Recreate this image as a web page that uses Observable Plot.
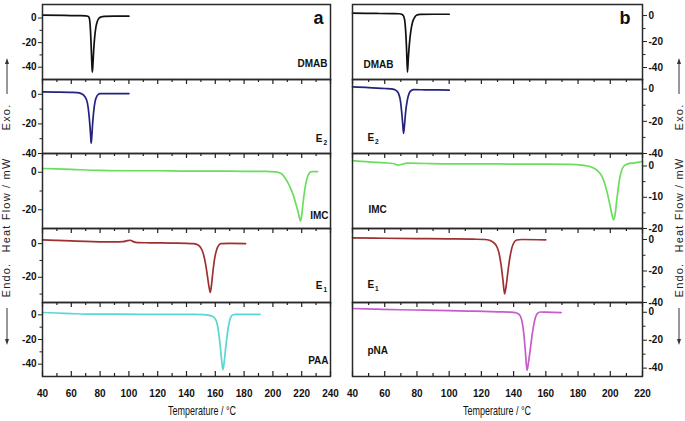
<!DOCTYPE html>
<html><head><meta charset="utf-8">
<script src="https://cdn.jsdelivr.net/npm/d3@7"></script>
<script src="https://cdn.jsdelivr.net/npm/@observablehq/plot@0.6"></script>
<style>
html,body{margin:0;padding:0;background:#fff;}
#chart{position:relative;width:685px;height:421px;overflow:hidden;background:#fff;font-family:"Liberation Sans",Arial,sans-serif;}
#chart svg{position:absolute;}
</style></head><body><div id="chart"></div>
<script>
// ---------- DATA ----------
// Panel a
const aDMAB_T  = [40,55,65,70,71.5,72.3,72.9,73.4,73.9,74.3,74.6,75.0,75.5,76.2,77,78,79,80.5,83,90,100];
const aDMAB_HF = [2.4,2.1,1.9,1.8,1.5,0.5,-3,-12,-26,-38,-44,-38,-27,-16,-8,-3,-0.5,0.8,1.4,1.5,1.5];
const aE2_T  = [40,50,60,64,66.5,68.5,70,71.2,72.2,73,73.5,73.8,74.2,74.8,75.5,76.5,77.5,78.5,80,85,100];
const aE2_HF = [1.6,1.5,1.3,1.1,0.6,-0.5,-2.5,-6,-13,-22,-29,-33,-29,-20,-12,-5,-1.8,-0.3,0.4,0.5,0.5];
const aIMC_T  = [40,60,80,100,120,140,160,180,195,202,206,208,210,212.5,214.5,216,217.3,218.5,219.2,220,221,222,223,224,225.5,227,231];
const aIMC_HF = [2.0,1.5,1.0,0.8,0.8,0.6,0.6,0.5,0.5,0.2,-0.8,-2.5,-5,-9,-13,-17,-20.5,-24.5,-26,-23,-16,-10,-5.5,-2.5,-0.3,0.3,0.3];
const aE1_T  = [40,50,60,70,80,90,96,99,101,103,106,115,130,140,145,148,150,151.5,153,154.5,155.7,156.5,157.3,158.3,159.5,161,162.5,164,170,181];
const aE1_HF = [2.2,1.9,1.6,1.3,1.1,1.0,1.2,1.8,2.0,1.2,0.6,0.5,0.3,0.2,0,-0.8,-2.5,-5.5,-11,-19,-26,-29,-25,-17,-9,-3.5,-0.8,0,0.1,0];
const aPAA_T  = [40,50,60,70,90,110,130,145,152,155,157.5,159.5,161,162.3,163.5,164.5,165.3,166.2,167.2,168.3,169.5,170.7,172,174,180,191];
const aPAA_HF = [1.9,1.5,1.0,0.6,0.5,0.4,0.3,0.3,0.1,-0.3,-1,-2.5,-6,-14,-26,-38,-44.5,-38,-27,-16,-7,-2,-0.2,0.3,0.3,0.3];
// Panel b
const bDMAB_T  = [40,55,65,69,70.5,71.5,72.3,73,73.6,74.1,74.6,75.3,76.2,77.3,78.5,79.7,82,90,100];
const bDMAB_HF = [1.8,1.6,1.5,1.4,1.0,0,-3,-12,-27,-43.5,-34,-22,-12,-5,-1.5,0.3,0.9,1.0,1.0];
const bE2_T  = [40,50,60,64,66,67.5,68.7,69.7,70.5,71.2,71.7,72.3,73,74,75.2,76.5,78,85,100];
const bE2_HF = [1.4,1.0,0.4,0.2,-0.3,-1.2,-3,-7,-14,-22,-27.5,-22,-14,-7,-2.5,-0.8,-0.3,-0.4,-0.6];
const bIMC_T  = [40,50,60,65,68.5,71,74,85,100,120,140,160,175,182,186,189,192,194.5,196.5,198.3,199.8,201,202,203,204,205,206,207.2,208.5,211,215,220];
const bIMC_HF = [1.7,1.3,1.0,0.8,0.3,0.6,0.9,0.8,0.7,0.7,0.6,0.6,0.5,0.3,0,-0.5,-1.5,-3,-5.5,-9,-12.5,-15.5,-17.2,-15.5,-11,-7,-3.5,-1.2,0,0.7,1.0,1.5];
const bE1_T  = [40,60,80,100,115,122,125,127,129,130.8,132.2,133.4,134.4,135.3,136.4,137.6,139,140.5,142,145,160];
const bE1_HF = [1.1,0.8,0.6,0.4,0.2,0,-0.5,-1.5,-3.5,-8,-16,-26,-34.5,-30,-21,-12,-5,-1.5,-0.3,0,-0.2];
const bPNA_T  = [40,55,70,85,100,115,130,138,141,143,144.3,145.3,146.3,147.3,148.3,149.2,150.3,151.4,152.5,153.6,154.8,156.5,160,169.5];
const bPNA_HF = [2.7,2.2,1.8,1.5,1.2,0.8,0.3,0.1,-0.3,-1.2,-3,-7,-15,-28,-41.7,-36,-27,-17,-9,-3.5,-0.8,0.2,0.1,-0.2];

// sample names (main text + subscript)
const namesA = ["DMAB","E","IMC","E","PAA"];
const subsA  = ["","2","","1",""];
const namesB = ["DMAB","E","IMC","E","pNA"];
const subsB  = ["","2","","1",""];

// y-axis ticks per row
const yDomA = [[-50,11],[-40,10],[-30,10],[-35,9],[-50,10]];
const yMajA = [[0,-20,-40],[0,-20,-40],[0,-20],[0,-20],[0,-20,-40]];
const yMinA = [[-10,-30],[-10,-30],[-10],[-10,-30],[-10,-30]];
const yDomB = [[-49.2,8.5],[-40,6],[-20,4],[-40,7],[-46,7]];
const yMajB = [[0,-20,-40],[0,-20,-40],[0,-10,-20],[0,-20,-40],[0,-20,-40]];
const yMinB = [[-10,-30],[-10,-30],[-5,-15],[-10,-30],[-10,-30]];

// x-axis tick labels
const xTicksA = [40,60,80,100,120,140,160,180,200,220,240];
const xMinorA = [50,70,90,110,130,150,170,190,210,230];
const xTicksB = [40,60,80,100,120,140,160,180,200,220];
const xMinorB = [50,70,90,110,130,150,170,190,210];

const colors = ["#111111","#23237e","#6ade5c","#9e3030","#5ad6d6"];
const colorsB = ["#111111","#23237e","#6ade5c","#9e3030","#c65bcc"];

// ---------- LAYOUT ----------
const chart = document.getElementById("chart");
const rowTops = [4,79,153,228,302,376];
const mT = 8, mB = 8, mBLast = 45;

const seriesA = [[aDMAB_T,aDMAB_HF],[aE2_T,aE2_HF],[aIMC_T,aIMC_HF],[aE1_T,aE1_HF],[aPAA_T,aPAA_HF]];
const seriesB = [[bDMAB_T,bDMAB_HF],[bE2_T,bE2_HF],[bIMC_T,bIMC_HF],[bE1_T,bE1_HF],[bPNA_T,bPNA_HF]];

// label placement (page coords): panel a end-anchored, panel b start-anchored
const labA = [{x:327,y:66},{x:322,y:141},{x:328,y:218},{x:322,y:288},{x:328,y:363}];
const labB = [{x:363,y:67},{x:367,y:140},{x:368,y:212},{x:367,y:287},{x:367,y:353}];

const font = "Liberation Sans, Arial, sans-serif";

function subplot(panel, i) {
  const isA = panel === "a";
  const [T, HF] = (isA ? seriesA : seriesB)[i];
  const data = T.map((t, k) => ({t, v: HF[k]}));
  const last = i === 4;
  const top = rowTops[i], h = rowTops[i+1] - rowTops[i];
  const plotH = h;
  const left = isA ? 0 : 345;
  const width = 340;
  const mL = isA ? 42 : 7, mR = isA ? 10 : 43;
  const frameL = left + mL, frameR = left + width - mR;
  const side = isA ? "left" : "right";
  const xDom = isA ? [40,240] : [40,220];
  const xMaj = isA ? xTicksA : xTicksB;
  const xMin = isA ? xMinorA : xMinorB;
  const yDom = (isA ? yDomA : yDomB)[i];
  const yMaj = (isA ? yMajA : yMajB)[i];
  const yMin = (isA ? yMinA : yMinB)[i];
  const color = (isA ? colors : colorsB)[i];
  const name = (isA ? namesA : namesB)[i];
  const sub = (isA ? subsA : subsB)[i];
  const lab = (isA ? labA : labB)[i];

  const marks = [
    Plot.axisY(yMaj, {anchor: side, tickSize: 4, tickPadding: 2, tickFormat: d => String(d), fontSize: 10, fontWeight: "bold", label: null, stroke: "#222"}),
    Plot.axisY(yMin, {anchor: side, tickSize: 2.5, tickFormat: () => "", label: null, stroke: "#222"}),
    Plot.line(data, {x: "t", y: "v", stroke: color, strokeWidth: 1.7, curve: "monotone-x"}),
    Plot.frame({stroke: "#2a2a2a", strokeWidth: 1.5})
  ];
  if (i > 0) {
    marks.push(Plot.tickX(xMaj, {x: d => d, insetBottom: plotH - 5, stroke: "#222", strokeWidth: 1.2}));
    marks.push(Plot.tickX(xMin, {x: d => d, insetBottom: plotH - 3, stroke: "#222", strokeWidth: 1.2}));
  }
  if (last) {
    marks.push(Plot.tickX(xMaj, {x: d => d, insetTop: plotH - 5, stroke: "#222", strokeWidth: 1.2}));
    marks.push(Plot.tickX(xMin, {x: d => d, insetTop: plotH - 3, stroke: "#222", strokeWidth: 1.2}));
    marks.push(Plot.axisX(xMaj, {anchor: "bottom", tickSize: 0, tickPadding: 13, tickFormat: d => String(d), fontSize: 10, fontWeight: "bold", label: null}));
  }
  // sample name labels
  if (isA) {
    const subW = sub ? 4 : 0;
    marks.push(Plot.text([name], {text: d => d, frameAnchor: "top-right", textAnchor: "end", lineAnchor: "bottom",
      dx: lab.x - frameR, dy: lab.y - top, fontSize: 10, fontWeight: "bold", fill: "#111"}));
    if (sub) marks.push(Plot.text([sub], {text: d => d, frameAnchor: "top-right", textAnchor: "start", lineAnchor: "bottom",
      dx: lab.x - frameR + 1, dy: lab.y - top + 3, fontSize: 6.5, fontWeight: "bold", fill: "#111"}));
  } else {
    marks.push(Plot.text([name], {text: d => d, frameAnchor: "top-left", textAnchor: "start", lineAnchor: "bottom",
      dx: lab.x - frameL, dy: lab.y - top, fontSize: 10, fontWeight: "bold", fill: "#111"}));
    if (sub) marks.push(Plot.text([sub], {text: d => d, frameAnchor: "top-left", textAnchor: "start", lineAnchor: "bottom",
      dx: lab.x - frameL + 7.5, dy: lab.y - top + 3, fontSize: 6.5, fontWeight: "bold", fill: "#111"}));
  }
  if (i === 0) {
    marks.push(Plot.text([isA ? "a" : "b"], {text: d => d, frameAnchor: "top-right", textAnchor: "end", lineAnchor: "bottom",
      dx: isA ? 323 - frameR : 630 - frameR, dy: 23 - top, fontSize: 18, fontWeight: "bold", fill: "#111"}));
  }

  const svg = Plot.plot({
    width, height: plotH + mT + (last ? mBLast : mB),
    marginTop: mT, marginBottom: last ? mBLast : mB, marginLeft: mL, marginRight: mR,
    x: {domain: xDom, axis: null},
    y: {domain: yDom, axis: null},
    style: {background: "transparent", overflow: "visible", fontFamily: font, color: "#111"},
    marks
  });
  svg.style.position = "absolute";
  svg.style.left = left + "px";
  svg.style.top = (top - mT) + "px";
  chart.appendChild(svg);
}

for (let i = 0; i < 5; i++) { subplot("a", i); subplot("b", i); }

// ---------- overlay: axis titles & arrows ----------
const ov = d3.select(chart).append("svg").attr("width", 685).attr("height", 421)
  .style("left", "0px").style("top", "0px").style("pointer-events", "none");
function vtext(x, y, s) {
  ov.append("text").attr("transform", `translate(${x},${y}) rotate(-90)`)
    .attr("text-anchor", "middle").attr("font-family", font).attr("font-size", 11)
    .attr("letter-spacing", "1.2px").attr("fill", "#222").text(s);
}
function arrow(x, y1, y2) {
  const dir = y2 < y1 ? -1 : 1;
  ov.append("line").attr("x1", x).attr("x2", x).attr("y1", y1).attr("y2", y2 - dir * 4)
    .attr("stroke", "#333").attr("stroke-width", 1);
  ov.append("path").attr("d", `M${x},${y2} L${x-2},${y2 - dir*6} L${x+2},${y2 - dir*6} Z`).attr("fill", "#333");
}
for (const bx of [10, 683]) {
  vtext(bx, 117, "Exo.");
  vtext(bx, 205, "Heat Flow / mW");
  vtext(bx, 280, "Endo.");
}
arrow(7, 94, 58); arrow(7, 308, 345);
arrow(679, 94, 58); arrow(679, 308, 345);
for (const cx of [202, 497]) {
  ov.append("text").attr("transform", `translate(${cx},415) scale(0.75,1)`)
    .attr("text-anchor", "middle").attr("font-family", font).attr("font-size", 12).attr("fill", "#111")
    .text("Temperature / °C");
}
</script>
</body></html>
